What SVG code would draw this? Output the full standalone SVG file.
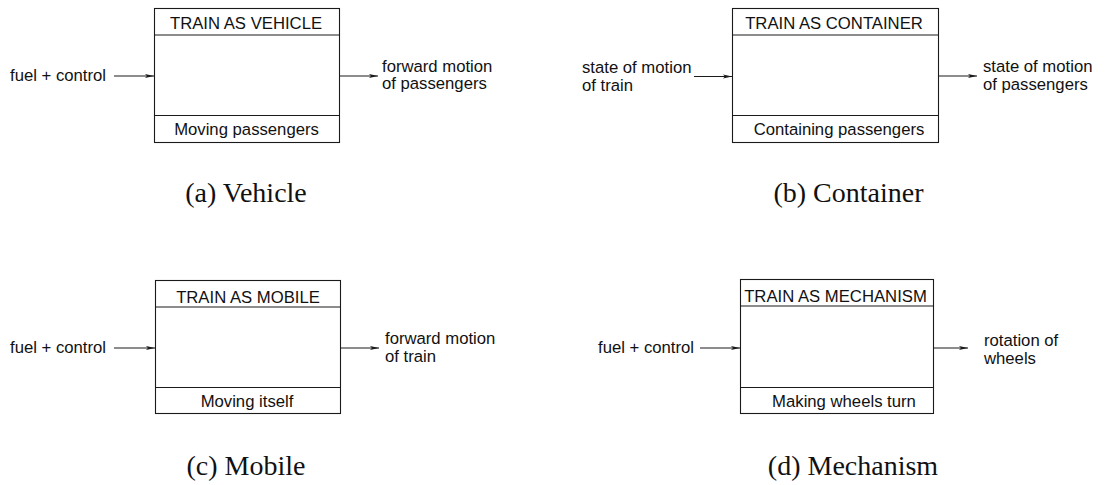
<svg xmlns="http://www.w3.org/2000/svg" width="1115" height="485" viewBox="0 0 1115 485">
<style>
.box{fill:none;stroke:#1a1a1a;stroke-width:1.1}
.t{font-family:"Liberation Sans",Arial,sans-serif;font-size:16.7px;fill:#111}
.c{font-family:"Liberation Serif","Times New Roman",serif;font-size:28px;fill:#111}
.ln{stroke:#1a1a1a;stroke-width:1;fill:none}
</style>
<defs>
<marker id="ah" markerUnits="userSpaceOnUse" markerWidth="10" markerHeight="6" refX="9" refY="3" orient="auto">
<path d="M0,1 L9,3 L0,5 L2,3 z" fill="#1a1a1a"/>
</marker>
</defs>
<rect width="1115" height="485" fill="#fff"/>

<g id="vehicle">
<rect class="box" x="154.5" y="8.5" width="185" height="134"/>
<line class="box" x1="154.5" y1="35" x2="339.5" y2="35"/>
<line class="box" x1="154.5" y1="115.5" x2="339.5" y2="115.5"/>
<text class="t" x="246" y="29" text-anchor="middle">TRAIN AS VEHICLE</text>
<text class="t" x="246.5" y="135" text-anchor="middle">Moving passengers</text>
</g>

<g id="container">
<rect class="box" x="732.5" y="8.5" width="206" height="134"/>
<line class="box" x1="732.5" y1="35" x2="938.5" y2="35"/>
<line class="box" x1="732.5" y1="115.5" x2="938.5" y2="115.5"/>
<text class="t" x="834" y="29" text-anchor="middle">TRAIN AS CONTAINER</text>
<text class="t" x="839" y="135" text-anchor="middle">Containing passengers</text>
</g>

<g id="mobile">
<rect class="box" x="155.5" y="280.5" width="185" height="133"/>
<line class="box" x1="155.5" y1="307" x2="340.5" y2="307"/>
<line class="box" x1="155.5" y1="387.5" x2="340.5" y2="387.5"/>
<text class="t" x="248" y="302.5" text-anchor="middle">TRAIN AS MOBILE</text>
<text class="t" x="247" y="406.5" text-anchor="middle">Moving itself</text>
</g>

<g id="mechanism">
<rect class="box" x="740.5" y="279.5" width="193" height="134"/>
<line class="box" x1="740.5" y1="306" x2="933.5" y2="306"/>
<line class="box" x1="740.5" y1="387.5" x2="933.5" y2="387.5"/>
<text class="t" x="835.5" y="301.5" text-anchor="middle">TRAIN AS MECHANISM</text>
<text class="t" x="844" y="406.5" text-anchor="middle">Making wheels turn</text>
</g>

<g id="connectors">
<line class="ln" x1="114" y1="76" x2="154" y2="76" marker-end="url(#ah)"/>
<line class="ln" x1="340" y1="76" x2="378" y2="76" marker-end="url(#ah)"/>
<line class="ln" x1="694" y1="76.5" x2="732" y2="76.5" marker-end="url(#ah)"/>
<line class="ln" x1="939" y1="76" x2="977" y2="76" marker-end="url(#ah)"/>
<line class="ln" x1="114" y1="348" x2="155" y2="348" marker-end="url(#ah)"/>
<line class="ln" x1="341" y1="348" x2="379" y2="348" marker-end="url(#ah)"/>
<line class="ln" x1="700" y1="348" x2="740" y2="348" marker-end="url(#ah)"/>
<line class="ln" x1="934" y1="348" x2="968" y2="348" marker-end="url(#ah)"/>
</g>

<g id="labels">
<text class="t" x="10" y="81">fuel + control</text>
<text class="t" x="382" y="72">forward motion</text>
<text class="t" x="382" y="89">of passengers</text>
<text class="t" x="582" y="73">state of motion</text>
<text class="t" x="582" y="91">of train</text>
<text class="t" x="983" y="72">state of motion</text>
<text class="t" x="983" y="90">of passengers</text>
<text class="t" x="10" y="353">fuel + control</text>
<text class="t" x="385" y="344">forward motion</text>
<text class="t" x="385" y="361.5">of train</text>
<text class="t" x="598" y="353">fuel + control</text>
<text class="t" x="984" y="346">rotation of</text>
<text class="t" x="984" y="364">wheels</text>
</g>

<g id="captions">
<text class="c" x="246" y="202" text-anchor="middle">(a) Vehicle</text>
<text class="c" x="848.5" y="202" text-anchor="middle">(b) Container</text>
<text class="c" x="246" y="475" text-anchor="middle">(c) Mobile</text>
<text class="c" x="853" y="475" text-anchor="middle">(d) Mechanism</text>
</g>
</svg>
